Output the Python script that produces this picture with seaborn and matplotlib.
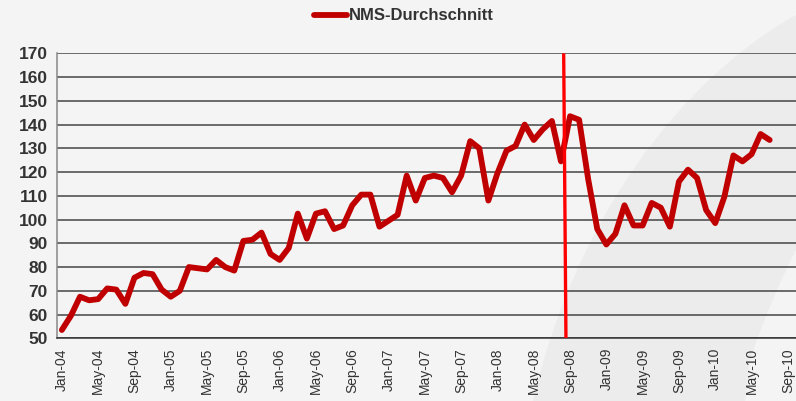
import numpy as np
import pandas as pd
import matplotlib
matplotlib.use("Agg")
import matplotlib.pyplot as plt
import seaborn as sns
from matplotlib.path import Path
from matplotlib.patches import PathPatch

# =====================================================
# Daten : NMS-Durchschnitt, monatlich Jan-04 .. Jul-10
# =====================================================

values = [
    53.5, 59.5, 67.5, 66, 66.5, 71, 70.5, 64.5, 75.5, 77.5, 77, 70.5,   # 2004
    67.5, 70, 80, 79.5, 79, 83, 80, 78.5, 91, 91.5, 94.5, 85.5,         # 2005
    83, 88, 102.5, 92, 102.5, 103.5, 96, 97.5, 106, 110.5, 110.5, 97,   # 2006
    99.5, 102, 118.5, 108, 117.5, 118.5, 117.5, 111.5, 118.5, 133, 130, 108,  # 2007
    119.5, 129, 131, 140, 133.5, 138, 141.5, 124.5, 143.5, 142, 117, 96,  # 2008
    89.5, 94, 106, 97.5, 97.5, 107, 105, 97, 116, 121, 117.5, 104,     # 2009
    98.5, 109.5, 127, 124.5, 127.5, 136, 133.5,                        # 2010
]

month_names = ["Jan", "Feb", "Mar", "Apr", "May", "Jun",
               "Jul", "Aug", "Sep", "Oct", "Nov", "Dec"]
tick_labels = [f"{month_names[m % 12]}-{4 + m // 12:02d}" for m in range(0, 81, 4)]

series_name = "NMS-Durchschnitt"
crisis_month = 56  # Sep-08

df = pd.DataFrame({"idx": np.arange(len(values)), "wert": values})

# =====================================================
# Plot
# =====================================================

sns.set_style("white")
plt.rcParams["font.family"] = ["Liberation Sans", "DejaVu Sans"]

bg = "#f4f4f4"
fig = plt.figure(figsize=(7.96, 4.01), dpi=100, facecolor=bg)

# dezenter Hintergrund-Bogen rechts
W, H = 796.0, 401.0
def fp(x, y):
    return (x / W, 1 - y / H)

verts = [fp(533, 401), fp(575, 220), fp(680, 80), fp(796, 15),
         fp(796, 250), fp(796, 250),
         fp(770, 300), fp(750, 360), fp(745, 401),
         fp(533, 401)]
codes = [Path.MOVETO, Path.CURVE4, Path.CURVE4, Path.CURVE4,
         Path.LINETO, Path.LINETO,
         Path.CURVE3, Path.CURVE3, Path.LINETO,
         Path.CLOSEPOLY]
swoosh = PathPatch(Path(verts, codes), facecolor="#ececec", edgecolor="none",
                   transform=fig.transFigure, zorder=-5)
fig.patches.append(swoosh)

ax = fig.add_axes([57.3 / W, 1 - 338.3 / H, 1 - 57.3 / W, (338.3 - 53.3) / H])
ax.set_facecolor("none")
ax.set_zorder(1)

sns.lineplot(data=df, x="idx", y="wert", ax=ax, color="#c00000",
             linewidth=4.2, label=series_name, zorder=3,
             solid_joinstyle="round", solid_capstyle="round")

# vertikale Linie (Sep-08)
ax.plot([crisis_month - 0.7, crisis_month - 0.45], [170, 50],
        color="#ff0000", linewidth=2.4, zorder=4, solid_capstyle="butt")

ax.set_xlim(-0.5, 80.9)
ax.set_ylim(50, 170)
ax.set_yticks(np.arange(50, 171, 10))
ax.yaxis.grid(True, color="#444444", linewidth=1.1)
ax.set_axisbelow(True)

# Beschriftungen mittig, Striche an den Kategoriegrenzen
ax.set_xticks(np.arange(0, 81, 4))
ax.set_xticklabels(tick_labels, rotation=90, fontsize=10, color="#333333")
ax.set_xticks(np.arange(-0.5, 81, 4), minor=True)
ax.tick_params(axis="x", which="major", length=0, pad=7)
ax.tick_params(axis="x", which="minor", length=4, color="#555555", width=1)
ax.tick_params(axis="y", length=5, color="#555555", width=1, pad=2,
               labelsize=12.5, labelcolor="#333333")
for t in ax.get_yticklabels():
    t.set_fontweight("bold")

for s in ["top", "right"]:
    ax.spines[s].set_visible(False)
ax.spines["left"].set_color("#888888")
ax.spines["bottom"].set_color("#333333")
ax.spines["left"].set_linewidth(1.1)
ax.spines["bottom"].set_linewidth(1.1)

ax.set_xlabel("")
ax.set_ylabel("")

leg = ax.legend(loc="center", bbox_to_anchor=(404 / W, 1 - 16 / H),
                bbox_transform=fig.transFigure, frameon=False,
                prop={"weight": "bold", "size": 12}, handlelength=2.0,
                handletextpad=0.1)
for t in leg.get_texts():
    t.set_color("#333333")

fig.savefig("out.png", dpi=100, facecolor=bg)
